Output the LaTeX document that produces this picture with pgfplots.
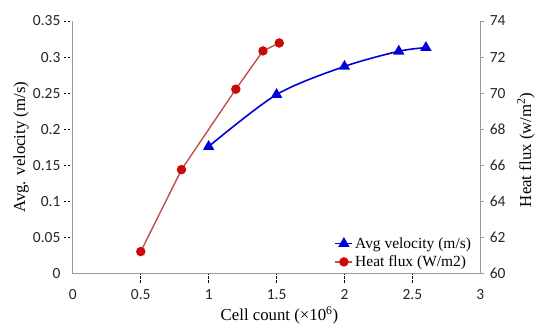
\documentclass[border=0pt]{standalone}
\usepackage{pgfplots}
\pgfplotsset{compat=1.18}
\usepackage{fontspec}
\setmainfont{Liberation Serif}
\newfontfamily\tickfont{Carlito}
\definecolor{vblue}{RGB}{0,0,215}
\definecolor{hred}{RGB}{192,80,77}
\definecolor{hmark}{RGB}{200,10,10}
\begin{document}
\begin{tikzpicture}
\pgfplotsset{
  common/.style={
    scale only axis, width=408pt, height=253pt,
    xmin=0, xmax=3,
    tick label style={font=\tickfont\fontsize{15.5}{16}\selectfont, text=black!85},
    /pgf/number format/assume math mode=true,
    label style={font=\fontsize{16.8}{18}\selectfont},
  }
}
\begin{axis}[common,
  ymin=0, ymax=0.35,
  axis x line*=bottom, axis y line*=left,
  axis line style={gray!80, line width=0.8pt, -},
  tick align=outside,
  major tick length=9pt,
  tick style={black, line width=0.8pt, dash pattern=on 2.5pt off 1.5pt},
  xtick={0.5,1,1.5,2,2.5},
  extra x ticks={0,3},
  extra x tick style={major tick length=0pt, xticklabel style={yshift=-9pt}},
  ytick={0.05,0.1,0.15,0.2,0.25,0.3,0.35},
  extra y ticks={0},
  extra y tick style={major tick length=0pt, yticklabel style={xshift=-9pt}},
  yticklabel style={/pgf/number format/fixed, /pgf/number format/precision=2},
  xticklabel style={/pgf/number format/fixed, yshift=-3pt},
  xlabel={Cell count (×10\textsuperscript{6})},
  xlabel style={at={(axis description cs:0.507,-0.166)}, anchor=center},
  ylabel={Avg. velocity (m/s)},
  ylabel style={at={(axis description cs:-0.127,0.5)}, anchor=center, rotate=0},
]
\addplot[vblue, line width=1.6pt, smooth, tension=0.5, mark=triangle*, mark size=5pt, mark options={solid, fill=vblue, draw=vblue}]
  coordinates {(1.0,0.176) (1.5,0.248) (2.0,0.287) (2.4,0.308) (2.6,0.313)};
\end{axis}
\begin{axis}[common,
  ymin=60, ymax=74,
  axis x line=none, axis y line*=right,
  axis line style={gray!80, line width=0.8pt, -},
  tick align=outside,
  major tick length=4pt,
  tick style={gray!80, line width=0.8pt},
  ytick={60,62,64,66,68,70,72,74},
  yticklabel style={xshift=2pt},
  ylabel={Heat flux (w/m\textsuperscript{2})},
  ylabel style={at={(axis description cs:1.112,0.49)}, anchor=center, rotate=0},
  legend style={at={(axis description cs:0.99,0.005)}, anchor=south east, draw=none, fill=none,
    font=\fontsize{15.5}{17}\selectfont, row sep=2pt},
  legend cell align=left,
]
\addlegendimage{vblue, line width=1.6pt, mark=triangle*, mark size=5pt, mark options={fill=vblue}}
\addlegendentry{Avg velocity (m/s)}
\addplot[hred, line width=1.4pt, mark=*, mark size=4pt, mark options={fill=hmark, draw=hmark}]
  coordinates {(0.5,61.22) (0.8,65.76) (1.2,70.22) (1.4,72.34) (1.52,72.78)};
\addlegendentry{Heat flux (W/m2)}
\end{axis}
\path[use as bounding box] (-73pt,-53pt) rectangle (465pt,274pt);
\end{tikzpicture}
\end{document}
